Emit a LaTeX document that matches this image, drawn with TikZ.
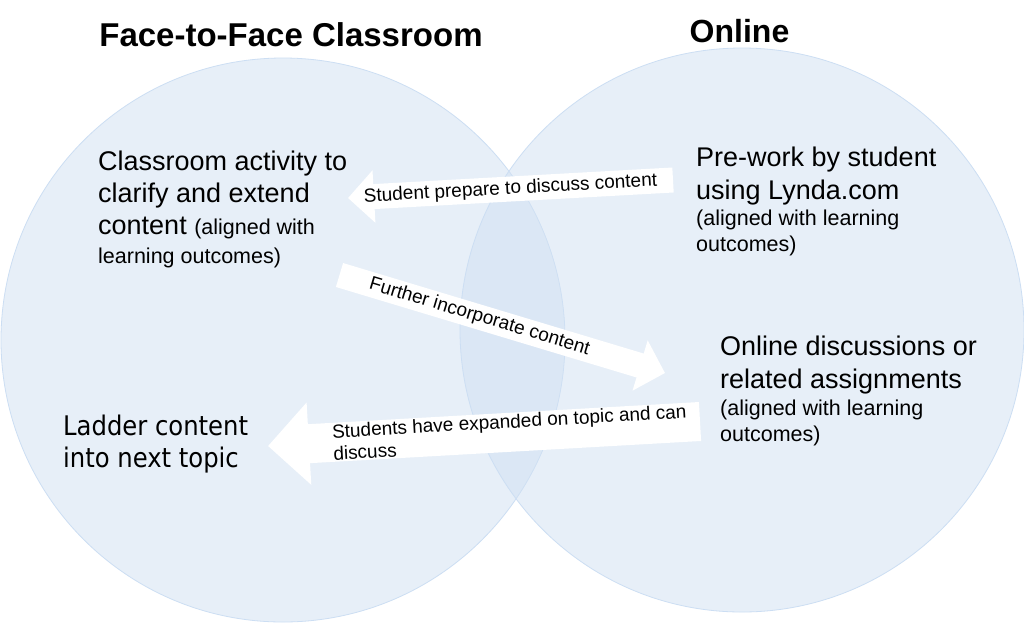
\documentclass[tikz,border=0pt]{standalone}
\usepackage{fontspec}
\setmainfont{Liberation Sans}
\newfontfamily\ladderfont{DejaVu Sans Condensed}
\usetikzlibrary{arrows.meta,positioning}
\definecolor{vennfill}{RGB}{209,225,243}
\definecolor{vennline}{RGB}{204,222,243}
\newcommand\bigsz{\fontsize{27}{32.5}\selectfont}
\newcommand\notesz{\fontsize{21.5}{26}\selectfont}
\tikzstyle{hdr}=[font=\bfseries\fontsize{33}{40}\selectfont, anchor=base, inner sep=0pt]
\tikzstyle{txt}=[font=\bigsz, align=left, anchor=north west, inner sep=0pt]
\tikzstyle{circ}=[draw=vennline, line width=0.8pt, fill=vennfill, fill opacity=0.5]
\tikzstyle{blk}=[white, line width=25pt, -{Triangle[length=26pt,width=51pt]}]
\tikzstyle{blkw}=[white, line width=39pt, -{Triangle[length=41pt,width=80pt]}]
\tikzstyle{lbl}=[text=black, font=\fontsize{19}{22}\selectfont, sloped, inner sep=0pt]

\begin{document}
\begin{tikzpicture}[x=1pt,y=-1pt]
\useasboundingbox[fill=white] (0,0) rectangle (1024,622);

\draw[circ] (283,340) circle [radius=282];
\draw[circ] (742,330) circle [radius=282];

\node (f2f) [hdr] at (291,46) {Face-to-Face Classroom};
\node (onl) [hdr, font=\bfseries\fontsize{32}{38}\selectfont] at (739.5,42.7) {Online};

\node (cls) [txt] at (98,150.3) {Classroom activity to\\clarify and extend\\[-1pt]content {\notesz(aligned with}\\[-3.5pt]{\notesz learning outcomes)}};
\node (pre) [txt] at (696,146.7) {Pre-work by student\\[0.5pt]using Lynda.com\\[-6.5pt]{\notesz(aligned with learning}\\[-6.5pt]{\notesz outcomes)}};
\node (dsc) [txt] at (720,335.3) {Online discussions or\\[0.5pt]related assignments\\[-5pt]{\notesz(aligned with learning}\\[-6.5pt]{\notesz outcomes)}};
\node (ldr) [txt, font=\ladderfont\bigsz] at (63,414.5) {Ladder content\\[-0.5pt]into next topic};

%arrows
\coordinate (a1s) at (673,180);
\coordinate (a1e) at (348,198);
\coordinate (a2s) at (339.5,275);
\coordinate (a2e) at (665,373);
\coordinate (a3s) at (700,421.5);
\coordinate (a3e) at (268,446);

\draw[blk] (a1s) -- node [lbl] {Student prepare to discuss content} (a1e);
\draw[blk] (a2s) -- node [lbl, pos=0.43] {Further incorporate content} (a2e);
\draw[blkw] (a3s) -- node [lbl, pos=0.44, align=left] {Students have expanded on topic and can\\discuss} (a3e);

\end{tikzpicture}
\end{document}
